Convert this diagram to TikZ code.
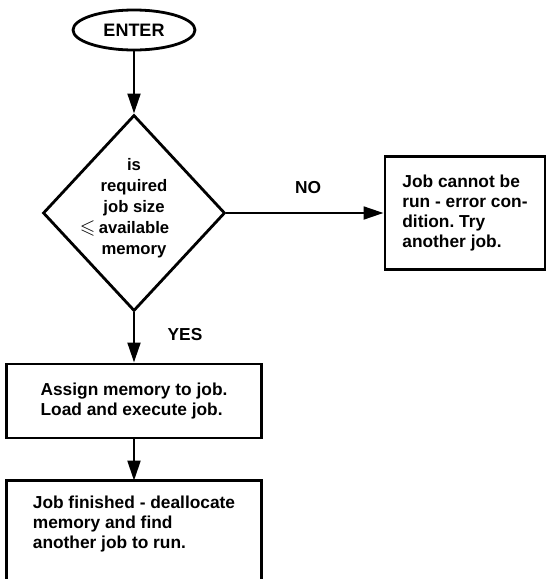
\documentclass[tikz,border=0pt]{standalone}
\usepackage{fontspec}
\setmainfont{Liberation Sans}
\usepackage{amssymb}
\usetikzlibrary{shapes.geometric,arrows.meta}
\frenchspacing

\tikzset{
  flowline/.style={line width=2.1pt},
  flowarrow/.style={flowline,-{Triangle[length=15pt,width=9.5pt]}},
  boxtext/.style={font=\bfseries\fontsize{13}{15}\selectfont},
  stepbox/.style={rectangle,draw,line width=2.1pt,inner sep=0pt,align=left,boxtext},
  terminal/.style={ellipse,draw,line width=2.1pt,inner sep=0pt,
    minimum width=91.5pt,minimum height=30pt,font=\bfseries\fontsize{13.5}{16}\selectfont},
  decision/.style={diamond,draw,line width=2.1pt,inner sep=0pt,
    minimum width=136.5pt,minimum height=147pt},
  branchlabel/.style={font=\bfseries\fontsize{13}{15}\selectfont,inner sep=0pt}
}

\begin{document}
\begin{tikzpicture}[x=0.75pt,y=-0.75pt]
  \useasboundingbox (0,0) rectangle (550,579);
  \clip (0,0) rectangle (550,579);
  \coordinate (pagebottom) at (0,579);

  % start terminal
  \node[terminal] (enter) at (134,30) {ENTER};

  % memory test
  \node[decision] (dec) at (134,213) {};
  \node[align=center,inner sep=0pt,font=\bfseries\fontsize{12.5}{15.75}\selectfont]
    (question) at (134,208)
    {is\\required\\job size\\\llap{\fontsize{15}{15}\selectfont$\leqslant$\,}available\\memory};

  % error branch
  \node[stepbox,minimum width=120pt,minimum height=84.75pt] (fail) at (465,213)
    {Job cannot be\\run - error con-\\dition. Try\\another job.};
  \node[branchlabel] (nolabel) at (308,188) {NO};

  % success branch
  \node[branchlabel] (yeslabel) at (185,335) {YES};
  \node[stepbox,minimum width=191.25pt,minimum height=55.5pt] (run) at (134,401)
    {Assign memory to job.\\Load and execute job.};

  % final step, box continues past the lower edge
  \node[rectangle,inner sep=0pt,align=left,boxtext,
        minimum width=191.25pt,minimum height=64.5pt] (finish) at (134,524)
    {Job finished - deallocate\\memory and find\\another job to run.};
  \draw[flowline] (finish.north west |- pagebottom) -- (finish.north west)
    -- (finish.north east) -- (finish.north east |- pagebottom);

  % connectors
  \draw[flowarrow] (enter) -- (dec);
  \draw[flowarrow] (dec) -- (fail);
  \draw[flowarrow] (dec) -- (run);
  \draw[flowarrow] (run) -- (finish.north);
\end{tikzpicture}
\end{document}
